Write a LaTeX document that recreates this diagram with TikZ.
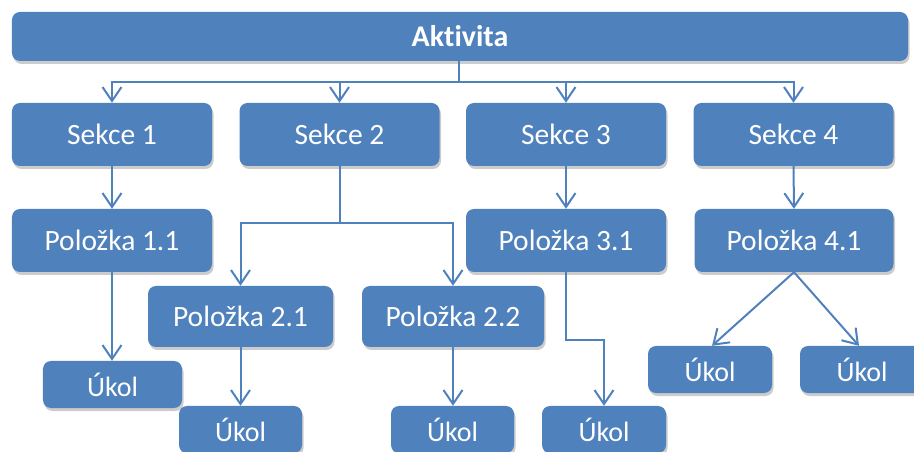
\documentclass[tikz,border=0pt]{standalone}
\usepackage{fontspec}
\setmainfont[Ligatures=NoCommon]{Carlito}
\usetikzlibrary{arrows.meta,shadows}
\definecolor{accent}{HTML}{4F81BD}
\tikzset{
  box/.style={rectangle, rounded corners=8bp, fill=accent, draw=none,
    text=white, inner sep=0pt, font=\fontsize{29.5bp}{34bp}\selectfont,
    drop shadow={shadow xshift=1.5bp, shadow yshift=-3bp, fill=black, opacity=0.2}},
  topbox/.style={box, font=\fontsize{30bp}{34bp}\selectfont\bfseries},
  taskbox/.style={box, minimum width=124bp, minimum height=47bp,
    font=\fontsize{28bp}{32bp}\selectfont},
  link/.style={draw=accent, line width=2bp,
    -{Straight Barb[length=14bp,width=19bp,line width=2bp]}},
}
\begin{document}
\begin{tikzpicture}[x=1bp,y=-1bp]
  \useasboundingbox (0,0) rectangle (914,452);
  \clip (0,0) rectangle (914,452);

  % top level
  \node[topbox, minimum width=896bp, minimum height=49bp] (akt) at (460,36.5) {Aktivita};

  % sections
  \foreach \i/\cx in {1/112, 2/339.5, 3/566, 4/793.5}
    \node[box, minimum width=200bp, minimum height=63bp] (s\i) at (\cx,134.5) {Sekce \i};

  % items
  \node[box, minimum width=200bp, minimum height=63bp] (p11) at (112,240.5) {Položka 1.1};
  \node[box, minimum width=185bp, minimum height=61bp] (p21) at (240.5,316.5) {Položka 2.1};
  \node[box, minimum width=182bp, minimum height=61bp] (p22) at (453,316.5) {Položka 2.2};
  \node[box, minimum width=200bp, minimum height=63bp] (p31) at (566,240.5) {Položka 3.1};
  \node[box, minimum width=199bp, minimum height=63bp] (p41) at (794,240.5) {Položka 4.1};

  % tasks
  \node[taskbox, minimum width=139bp] (u11) at (112.5,384.5) {Úkol};
  \node[taskbox, minimum width=123bp] (u21) at (240.5,429.5) {Úkol};
  \node[taskbox, minimum width=123bp] (u22) at (452.5,429.5) {Úkol};
  \node[taskbox] (u31) at (604,429.5) {Úkol};
  \node[taskbox] (u41) at (710,369.5) {Úkol};
  \node[taskbox] (u42) at (862,369.5) {Úkol};

  % junction points
  \coordinate (j1) at (459,82);
  \coordinate (j2) at (339.5,223);
  \coordinate (j3) at (566,340);

  % connectors
  \foreach \i in {1,2,3,4}
    \draw[link] (akt.south -| j1) -- (j1) -| (s\i.north);
  \draw[link] (s1.south) -- (p11.north);
  \draw[link] (s2.south) -- (j2) -| (p21.north);
  \draw[link] (j2) -| (p22.north);
  \draw[link] (s3.south) -- (p31.north);
  \draw[link] (s4.south) -- (p41.north);
  \draw[link] (p11.south) -- (p11.south |- u11.north);
  \draw[link] (p21.south) -- (p21.south |- u21.north);
  \draw[link] (p22.south) -- (p22.south |- u22.north);
  \draw[link] (p31.south) -- (j3) -| (u31.north);
  \draw[link] (p41.south) -- ([xshift=2bp]u41.north);
  \draw[link] (p41.south) -- ([xshift=-3bp]u42.north);
\end{tikzpicture}
\end{document}
